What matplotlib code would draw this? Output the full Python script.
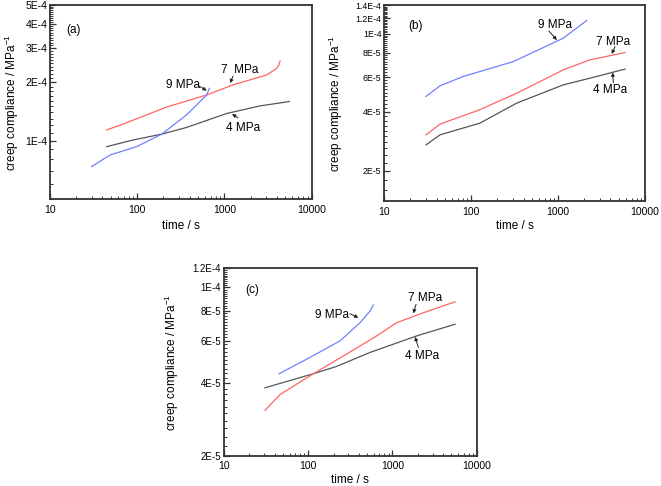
import numpy as np
import matplotlib
matplotlib.use("Agg")
import matplotlib.pyplot as plt
from matplotlib.ticker import FixedLocator, FixedFormatter, LogLocator, NullFormatter

plt.rcParams['font.family'] = ['Liberation Sans', 'DejaVu Sans']
plt.rcParams['mathtext.fontset'] = 'custom'
plt.rcParams['mathtext.rm'] = 'Liberation Sans'
plt.rcParams['mathtext.it'] = 'Liberation Sans'

# ---------------- data ----------------
# panel (a)
a_t9 = [30, 48.8, 98.6, 191, 370, 627, 671]
a_c9 = [7.34e-5, 8.43e-5, 9.31e-5, 1.08e-4, 1.36e-4, 1.72e-4, 1.86e-4]
a_t7 = [44.7, 63.5, 218, 627, 1265, 3055, 3980, 4200, 4345]
a_c7 = [1.135e-4, 1.2e-4, 1.49e-4, 1.72e-4, 1.94e-4, 2.18e-4, 2.36e-4, 2.45e-4, 2.57e-4]
a_t4 = [44.7, 90, 191, 370, 1062, 2560, 5550]
a_c4 = [9.31e-5, 1.008e-4, 1.08e-4, 1.17e-4, 1.38e-4, 1.51e-4, 1.59e-4]

# panel (b)
b_t9 = [30.2, 43.8, 81, 305, 1148, 2133]
b_c9 = [4.79e-5, 5.43e-5, 6.06e-5, 7.22e-5, 9.51e-5, 1.17e-4]
b_t7 = [30.2, 43.8, 126, 334, 1148, 2330, 5890]
b_c7 = [3.05e-5, 3.46e-5, 4.1e-5, 4.98e-5, 6.55e-5, 7.37e-5, 8.03e-5]
b_t4 = [30.2, 43.8, 126, 334, 1148, 2330, 5890]
b_c4 = [2.71e-5, 3.05e-5, 3.5e-5, 4.43e-5, 5.49e-5, 5.94e-5, 6.61e-5]

# panel (c)
c_t9 = [45, 105, 239, 413, 542, 593]
c_c9 = [4.38e-5, 5.12e-5, 6.0e-5, 7.14e-5, 7.98e-5, 8.45e-5]
c_t7 = [30.7, 46.3, 115, 286, 650, 1124, 2330, 5530]
c_c7 = [3.09e-5, 3.59e-5, 4.38e-5, 5.29e-5, 6.29e-5, 7.14e-5, 7.85e-5, 8.71e-5]
c_t4 = [30.7, 115, 218, 542, 1940, 5530]
c_c4 = [3.83e-5, 4.38e-5, 4.7e-5, 5.37e-5, 6.29e-5, 7.03e-5]

x_ticks = [10, 100, 1000, 10000]
x_ticklabels = ['10', '100', '1000', '10000']

a_yticks = [1e-4, 2e-4, 3e-4, 4e-4, 5e-4]
a_yticklabels = ['1E-4', '2E-4', '3E-4', '4E-4', '5E-4']
b_yticks = [2e-5, 4e-5, 6e-5, 8e-5, 1e-4, 1.2e-4, 1.4e-4]
b_yticklabels = ['2E-5', '4E-5', '6E-5', '8E-5', '1E-4', '1.2E-4', '1.4E-4']
c_yticks = [2e-5, 4e-5, 6e-5, 8e-5, 1e-4, 1.2e-4]
c_yticklabels = ['2E-5', '4E-5', '6E-5', '8E-5', '1E-4', '1.2E-4']

C4 = '#555555'
C7 = '#ff6464'
C9 = '#7080ff'
FRAME = '#333333'
FS = 8.5

fig = plt.figure(figsize=(6.61, 4.86), dpi=100)


def style(ax, ylim, yticks, ylabels, yminor_step, label_fs, ylab_x, xlab_y):
    ax.set_xscale('log')
    ax.set_yscale('log')
    ax.set_xlim(10, 10000)
    ax.set_ylim(*ylim)
    ax.xaxis.set_major_locator(FixedLocator(x_ticks))
    ax.xaxis.set_major_formatter(FixedFormatter(x_ticklabels))
    ax.xaxis.set_minor_locator(LogLocator(base=10, subs=np.arange(2, 10)))
    ax.xaxis.set_minor_formatter(NullFormatter())
    ax.yaxis.set_major_locator(FixedLocator(yticks))
    ax.yaxis.set_major_formatter(FixedFormatter(ylabels))
    minors = np.arange(ylim[0], ylim[1] * 1.0001, yminor_step)
    ax.yaxis.set_minor_locator(FixedLocator(minors))
    ax.yaxis.set_minor_formatter(NullFormatter())
    ax.tick_params(which='major', direction='in', length=4, width=0.9,
                   color=FRAME, top=False, right=False, labelsize=label_fs, pad=2)
    ax.tick_params(which='minor', direction='in', length=2, width=0.7,
                   color=FRAME, top=False, right=False)
    ax.tick_params(axis='x', labelsize=7.5, pad=4)
    for s in ax.spines.values():
        s.set_color(FRAME)
        s.set_linewidth(1.3)
    ax.set_xlabel('time / s', fontsize=FS)
    ax.set_ylabel('creep compliance / MPa$^{-1}$', fontsize=FS)
    ax.yaxis.set_label_coords(ylab_x, 0.5)
    ax.xaxis.set_label_coords(0.5, xlab_y)


def arrow(ax, start, end):
    ax.annotate('', xy=end, xytext=start,
                arrowprops=dict(arrowstyle='-|>', color='#222222', lw=0.7,
                                mutation_scale=5, shrinkA=0, shrinkB=0))


# ---- (a)
ax = fig.add_axes([0.0756, 0.5905, 0.3959, 0.3992])
ax.plot(a_t4, a_c4, color=C4, lw=0.9)
ax.plot(a_t7, a_c7, color=C7, lw=0.9)
ax.plot(a_t9, a_c9, color=C9, lw=0.9)
style(ax, (5e-5, 5e-4), a_yticks, a_yticklabels, 1e-5, 7.5, -0.112, -0.11)
ax.text(15.5, 3.72e-4, '(a)', fontsize=FS, ha='left', va='center')
ax.text(333, 1.94e-4, '9 MPa', fontsize=FS, ha='center', va='center')
arrow(ax, (512, 1.91e-4), (627, 1.81e-4))
ax.text(1483, 2.31e-4, '7  MPa', fontsize=FS, ha='center', va='center')
arrow(ax, (1256, 2.15e-4), (1159, 1.98e-4))
ax.text(1648, 1.16e-4, '4 MPa', fontsize=FS, ha='center', va='center')
arrow(ax, (1432, 1.31e-4), (1222, 1.37e-4))

# ---- (b)
ax = fig.add_axes([0.5814, 0.5864, 0.3944, 0.4027])
ax.plot(b_t4, b_c4, color=C4, lw=0.9)
ax.plot(b_t7, b_c7, color=C7, lw=0.9)
ax.plot(b_t9, b_c9, color=C9, lw=0.9)
style(ax, (1.4e-5, 1.4e-4), b_yticks, b_yticklabels, 2e-6, 6.3, -0.15, -0.095)
ax.text(18.9, 1.1e-4, '(b)', fontsize=FS, ha='left', va='center')
ax.text(920, 1.11e-4, '9 MPa', fontsize=FS, ha='center', va='center')
arrow(ax, (783, 1.035e-4), (968, 9.3e-5))
ax.text(4315, 9.14e-5, '7 MPa', fontsize=FS, ha='center', va='center')
arrow(ax, (4520, 8.61e-5), (4140, 7.9e-5))
ax.text(3955, 5.14e-5, '4 MPa', fontsize=FS, ha='center', va='center')
arrow(ax, (4315, 5.64e-5), (4246, 6.35e-5))

# ---- (c)
ax = fig.add_axes([0.3389, 0.0623, 0.3823, 0.3856])
ax.plot(c_t4, c_c4, color=C4, lw=0.9)
ax.plot(c_t7, c_c7, color=C7, lw=0.9)
ax.plot(c_t9, c_c9, color=C9, lw=0.9)
style(ax, (2e-5, 1.2e-4), c_yticks, c_yticklabels, 2e-6, 7, -0.17, -0.1)
ax.text(17.7, 9.8e-5, '(c)', fontsize=FS, ha='left', va='center')
ax.text(190, 7.68e-5, '9 MPa', fontsize=FS, ha='center', va='center')
arrow(ax, (313, 7.78e-5), (393, 7.48e-5))
ax.text(2440, 9.05e-5, '7 MPa', fontsize=FS, ha='center', va='center')
arrow(ax, (1905, 8.5e-5), (1770, 7.8e-5))
ax.text(2230, 5.2e-5, '4 MPa', fontsize=FS, ha='center', va='center')
arrow(ax, (2030, 5.63e-5), (1854, 6.23e-5))

fig.savefig('out.png', dpi=100)
